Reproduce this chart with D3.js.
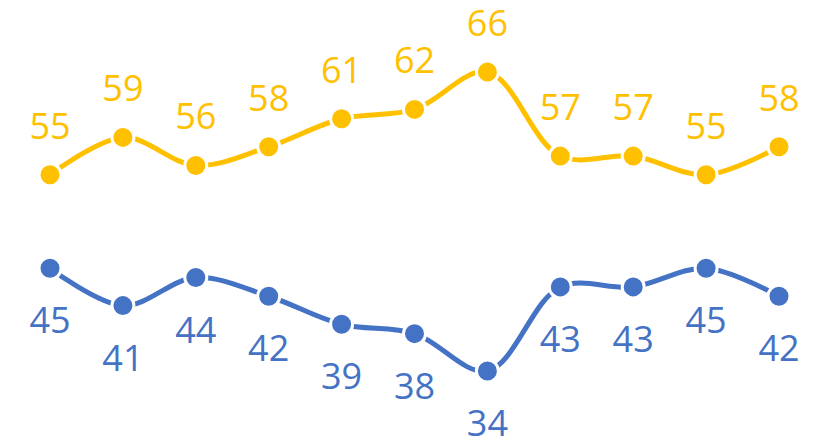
<!DOCTYPE html>
<html><head><meta charset="utf-8">
<script src="https://cdn.jsdelivr.net/npm/d3@7"></script>
<style>html,body{margin:0;padding:0;background:#fff;}</style>
</head><body>
<svg id="chart" width="818" height="440"></svg>
<script>
const categories = ["1","2","3","4","5","6","7","8","9","10","11"];
const seriesTop = [55,59,56,58,61,62,66,57,57,55,58];
const seriesBottom = [45,41,44,42,39,38,34,43,43,45,42];
const colors = {top:"#FFC000", bottom:"#4472C4"};

const svg = d3.select("#chart");
const x = d3.scalePoint().domain(categories).range([50,779]);
const y = d3.scaleLinear().domain([34,66]).range([371,72]);

const line = d3.line().x((d,i)=>x(categories[i])).y(d=>y(d)).curve(d3.curveCatmullRom.alpha(0.5));

function draw(data, color, dy){
  const g = svg.append("g");
  g.append("path").attr("d", line(data)).attr("fill","none")
    .attr("stroke",color).attr("stroke-width",5).attr("stroke-linecap","butt");
  g.selectAll("circle").data(data).join("circle")
    .attr("cx",(d,i)=>x(categories[i])).attr("cy",d=>y(d)).attr("r",11)
    .attr("fill",color).attr("stroke","#fff").attr("stroke-width",3);
  g.selectAll("text").data(data).join("text")
    .attr("x",(d,i)=>x(categories[i])).attr("y",d=>y(d)+dy)
    .attr("text-anchor","middle").attr("fill",color)
    .style("font-family","'Open Sans', sans-serif").style("font-size","36px")
    .text(d=>d);
}
draw(seriesTop, colors.top, -36);
draw(seriesBottom, colors.bottom, 65);
</script>
</body></html>
